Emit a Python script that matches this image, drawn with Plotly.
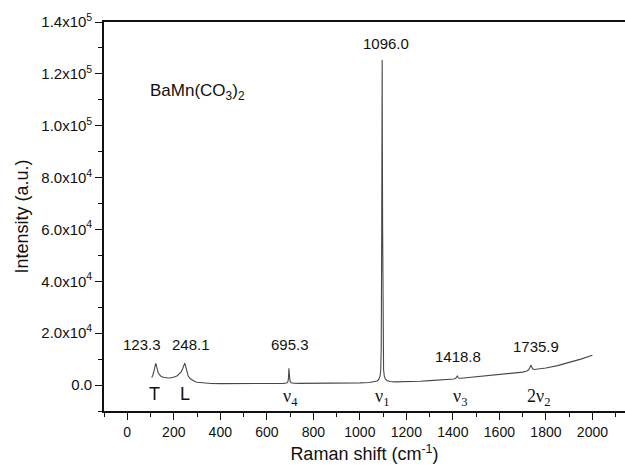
import plotly.graph_objects as go

# Raman spectrum of BaMn(CO3)2
shift = [105, 110, 115, 118, 120, 122, 124, 126, 128, 132, 138, 145, 155, 165, 175, 185, 195,
         205, 215, 225, 232, 238, 242, 245, 247, 249, 252, 256, 262, 270, 280, 290, 300, 320,
         340, 360, 400, 450, 500, 550, 600, 640, 670, 685, 690, 693, 695, 697, 700, 705, 715,
         740, 780, 820, 860, 900, 950, 1000, 1040, 1060, 1075, 1082, 1087, 1090, 1092, 1094,
         1095, 1096, 1097, 1098, 1100, 1102, 1105, 1110, 1118, 1130, 1150, 1180, 1220, 1260,
         1300, 1340, 1380, 1405, 1412, 1416, 1419, 1422, 1426, 1435, 1470, 1520, 1570, 1620,
         1660, 1700, 1715, 1725, 1730, 1733, 1736, 1739, 1743, 1750, 1770, 1800, 1850, 1900,
         1950, 2000]
intensity = [2900, 3800, 5500, 6800, 7600, 8300, 8100, 7200, 6200, 5000, 4000, 3400, 3000, 2800,
             2700, 2750, 2900, 3200, 3600, 4300, 5100, 6300, 7500, 8300, 8400, 8000, 6800, 5000,
             3500, 2500, 1800, 1400, 1100, 850, 700, 620, 550, 520, 500, 500, 520, 560, 650, 800,
             1100, 2500, 6500, 4000, 1500, 900, 700, 650, 640, 640, 660, 700, 760, 850, 1000,
             1200, 1600, 2300, 3500, 6000, 15000, 60000, 88000, 125300, 88000, 60000, 15000,
             6000, 3500, 2300, 1700, 1400, 1250, 1250, 1350, 1500, 1700, 1900, 2150, 2350, 2600,
             3200, 3500, 3000, 2600, 2600, 2900, 3300, 3700, 4200, 4600, 5000, 5300, 5800, 6600,
             7400, 7700, 7000, 6300, 6000, 6200, 6600, 7500, 8700, 10000, 11500]

peak_labels = ["123.3", "248.1", "695.3", "1096.0", "1418.8", "1735.9"]
peak_label_x = [63, 274, 700, 1113, 1423, 1756]
peak_label_y = [15600, 15600, 15600, 131600, 10900, 14800]

mode_labels = ["T", "L", "ν<sub>4</sub>", "ν<sub>1</sub>", "ν<sub>3</sub>", "2ν<sub>2</sub>"]
mode_x = [115, 248, 700, 1096, 1431, 1767]
mode_y = [-3600, -3600, -4800, -4800, -4800, -4800]

y_tickvals = [0, 20000, 40000, 60000, 80000, 100000, 120000, 140000]
y_ticktext = ["0.0", "2.0x10<sup>4</sup>", "4.0x10<sup>4</sup>", "6.0x10<sup>4</sup>",
              "8.0x10<sup>4</sup>", "1.0x10<sup>5</sup>", "1.2x10<sup>5</sup>", "1.4x10<sup>5</sup>"]
x_tickvals = [0, 200, 400, 600, 800, 1000, 1200, 1400, 1600, 1800, 2000]

FONT = "Arial, Liberation Sans, sans-serif"
SERIF = "Liberation Serif, Times New Roman, serif"

fig = go.Figure()
fig.add_trace(go.Scatter(x=shift, y=intensity, mode="lines",
                         line=dict(color="#484848", width=1.1), showlegend=False,
                         hoverinfo="skip"))

annotations = []
for t, x, y in zip(peak_labels, peak_label_x, peak_label_y):
    annotations.append(dict(x=x, y=y, text=t, showarrow=False, xref="x", yref="y",
                            font=dict(family=FONT, size=15, color="#111111")))
for i, (t, x, y) in enumerate(zip(mode_labels, mode_x, mode_y)):
    big = i < 2
    annotations.append(dict(x=x, y=y, text=t, showarrow=False, xref="x", yref="y",
                            font=dict(family=FONT if big else SERIF,
                                      size=18 if big else 18, color="#111111")))
annotations.append(dict(x=89, y=113000, text="BaMn(CO<sub>3</sub>)<sub>2</sub>", showarrow=False,
                        xref="x", yref="y", xanchor="left",
                        font=dict(family=FONT, size=17, color="#111111")))

fig.update_layout(
    width=625, height=470,
    margin=dict(l=104, r=0, t=22, b=59),
    paper_bgcolor="white", plot_bgcolor="white",
    font=dict(family=FONT, size=14, color="#111111"),
    annotations=annotations,
    xaxis=dict(range=[-100, 2140], tickvals=x_tickvals, showgrid=False, zeroline=False,
               showline=True, linecolor="#111111", linewidth=1.6, mirror=True,
               ticks="outside", ticklen=7, tickwidth=1.3, tickcolor="#111111",
               minor=dict(ticks="outside", ticklen=4, dtick=100, tick0=0, tickcolor="#111111",
                          tickwidth=1.3),
               tickfont=dict(family=FONT, size=14),
               title=dict(text="Raman shift (cm<sup>-1</sup>)", font=dict(family=FONT, size=18),
                          standoff=9)),
    yaxis=dict(range=[-10000, 140000], tickvals=y_tickvals, ticktext=y_ticktext,
               showgrid=False, zeroline=False, showline=True, linecolor="#111111",
               linewidth=1.6, ticks="outside", ticklen=7, tickwidth=1.3, tickcolor="#111111",
               minor=dict(ticks="outside", ticklen=4, dtick=10000, tick0=0,
                          tickcolor="#111111", tickwidth=1.3),
               tickfont=dict(family=FONT, size=15),
               title=dict(text="Intensity (a.u.)", font=dict(family=FONT, size=18),
                          standoff=8)),
)

fig.write_html("out.html")
